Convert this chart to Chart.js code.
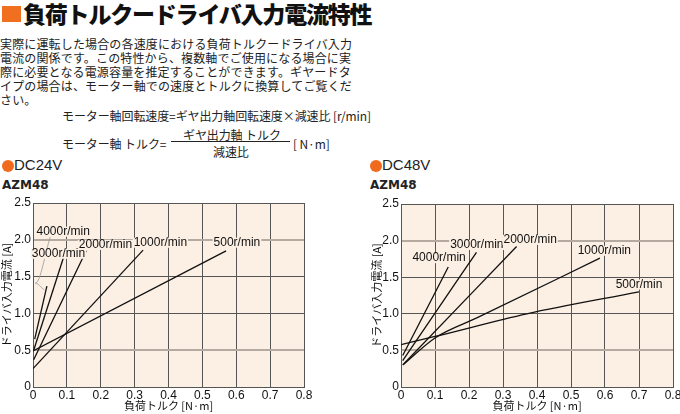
<!DOCTYPE html>
<html>
<head>
<meta charset="utf-8">
<script src="https://cdn.jsdelivr.net/npm/chart.js@4.4.1/dist/chart.umd.min.js"></script>
<style>
body{margin:0;width:680px;height:414px;background:#fff;position:relative;overflow:hidden;font-family:"Noto Sans CJK JP",sans-serif;color:#222}
.t{position:absolute;white-space:nowrap}
#sq{position:absolute;left:2px;top:6px;width:19px;height:16px;background:#f07020}
#ttl{left:23px;top:0;font-size:23px;font-weight:900;line-height:26px;letter-spacing:-1.2px;color:#111}
#body{left:0;top:37px;font-size:12px;line-height:14.1px;letter-spacing:0.15px}
.f{font-size:12px;line-height:14px;letter-spacing:-0.1px}
.dot{position:absolute;width:12px;height:12px;border-radius:50%;background:#f06a1e}
.dc{font-family:"Liberation Sans",Arial,sans-serif;font-size:15px;line-height:16px}
.azm{font-family:"DejaVu Sans",sans-serif;font-weight:bold;font-size:12px;line-height:14px}
canvas{position:absolute}
</style>
</head>
<body>
<div id="sq"></div>
<div class="t" id="ttl">負荷トルクードライバ入力電流特性</div>
<div class="t" id="body">実際に運転した場合の各速度における負荷トルクードライバ入力<br>電流の関係です。この特性から、複数軸でご使用になる場合に実<br>際に必要となる電源容量を推定することができます。ギヤードタ<br>イプの場合は、モーター軸での速度とトルクに換算してご覧くだ<br>さい。</div>
<div class="t f" style="left:62px;top:109px">モーター軸回転速度=ギヤ出力軸回転速度×減速比 [r/min]</div>
<div class="t f" style="left:62px;top:137px">モーター軸 トルク=</div>
<div class="t f" style="left:183px;top:128px">ギヤ出力軸 トルク</div>
<div style="position:absolute;left:171px;top:141px;width:119px;height:1px;background:#222"></div>
<div class="t f" style="left:213px;top:145px">減速比</div>
<div class="t f" style="left:293px;top:137px">[ N·m]</div>

<div class="dot" style="left:1.5px;top:159.5px"></div>
<div class="t dc" style="left:14px;top:157px">DC24V</div>
<div class="t azm" style="left:2px;top:178px">AZM48</div>
<div class="dot" style="left:369.5px;top:159.5px"></div>
<div class="t dc" style="left:382px;top:157px">DC48V</div>
<div class="t azm" style="left:370px;top:178px">AZM48</div>

<canvas id="c24" style="left:0;top:190px;width:340px;height:224px" width="340" height="224"></canvas>
<canvas id="c48" style="left:368px;top:191px;width:312px;height:223px" width="312" height="223"></canvas>

<script>
// tick labels
const xTicks = ['0', '0.1', '0.2', '0.3', '0.4', '0.5', '0.6', '0.7', '0.8'];
const yTicks = ['0', '0.5', '1.0', '1.5', '2.0', '2.5'];
const speeds = ['4000r/min', '3000r/min', '2000r/min', '1000r/min', '500r/min'];

// DC24V  [torque N·m, current A]
const dc24_4000 = [[0.005, 0.65], [0.041, 1.37]];
const dc24_3000 = [[0.002, 0.50], [0.090, 1.76]];
const dc24_2000 = [[0.002, 0.37], [0.157, 1.85]];
const dc24_1000 = [[0, 0.25], [0.325, 1.86]];
const dc24_500 = [[0, 0.49], [0.570, 1.85]];
const dc24_leader = [[0.051, 2.04], [0.007, 1.41], [0.033, 1.32]];
const dc24_labelAt = [[0.089, 2.11], [0.075, 1.81], [0.214, 1.93], [0.376, 1.96], [0.602, 1.96]];

// DC48V
const dc48_4000 = [[0.005, 0.43], [0.139, 1.64]];
const dc48_3000 = [[0.005, 0.36], [0.222, 1.84]];
const dc48_2000 = [[0.005, 0.30], [0.340, 1.92]];
const dc48_1000 = [[0.008, 0.31], [0.1, 0.67], [0.226, 0.95], [0.585, 1.76]];
const dc48_500 = [[0, 0.58], [0.1, 0.69], [0.37, 1.0], [0.70, 1.30]];
const dc48_labelAt = [[0.112, 1.76], [0.223, 1.94], [0.380, 2.01], [0.598, 1.86], [0.70, 1.40]];

const BG = '#fcefe3';
const DARK = '#555';
const LIGHT = '#b4aaa0';
const NARROW = '"Liberation Sans Narrow", "Arial Narrow", "Liberation Sans", sans-serif';
const toXY = arr => arr.map(p => ({x: p[0], y: p[1]}));

const bgPlugin = {
    id: 'bg',
    beforeDraw(chart) {
        const a = chart.chartArea;
        chart.ctx.save();
        chart.ctx.fillStyle = BG;
        chart.ctx.fillRect(a.left, a.top, a.right - a.left, a.bottom - a.top);
        chart.ctx.restore();
    }
};

const labelPlugin = {
    id: 'speedLabels',
    afterDatasetsDraw(chart, args, opts) {
        const ctx = chart.ctx;
        const xs = chart.scales.x, ys = chart.scales.y;
        ctx.save();
        ctx.font = '12px ' + NARROW;
        ctx.textAlign = 'center';
        ctx.textBaseline = 'middle';
        opts.at.forEach((p, i) => {
            const px = xs.getPixelForValue(p[0]);
            const py = ys.getPixelForValue(p[1]);
            const w = ctx.measureText(speeds[i]).width;
            ctx.fillStyle = BG;
            ctx.fillRect(px - w / 2 - 1, py - 5, w + 2, 10);
            ctx.fillStyle = '#111';
            ctx.fillText(speeds[i], px, py);
        });
        ctx.restore();
    }
};

function lineSet(data, color, width) {
    return {
        data: toXY(data),
        showLine: true,
        borderColor: color,
        borderWidth: width,
        pointRadius: 0,
        cubicInterpolationMode: 'monotone',
        fill: false
    };
}

function makeChart(id, series, labelAt, padRight, yTitlePad) {
    new Chart(document.getElementById(id), {
        type: 'scatter',
        data: {datasets: series},
        options: {
            responsive: false,
            animation: false,
            events: [],
            layout: {padding: {left: 0, top: 13, right: padRight, bottom: 0}},
            plugins: {
                legend: {display: false},
                tooltip: {enabled: false},
                speedLabels: {at: labelAt}
            },
            scales: {
                x: {
                    type: 'linear', min: 0, max: 0.8,
                    ticks: {
                        stepSize: 0.1, padding: 1, color: '#111', maxRotation: 0,
                        font: {family: NARROW, size: 12},
                        callback: (v, i) => xTicks[i]
                    },
                    grid: {color: DARK, lineWidth: 1, drawTicks: false},
                    border: {color: DARK, width: 1},
                    title: {
                        display: true, text: '負荷トルク [N·m]', color: '#111',
                        font: {family: '"Noto Sans CJK JP", sans-serif', size: 11},
                        padding: {top: 0, bottom: 2}
                    },
                    afterFit: s => { s.height = 27; s.paddingLeft = 0; s.paddingRight = 0; }
                },
                y: {
                    type: 'linear', min: 0, max: 2.5,
                    ticks: {
                        stepSize: 0.5, padding: 2, color: '#111',
                        font: {family: NARROW, size: 12},
                        callback: (v, i) => yTicks[i]
                    },
                    grid: {
                        drawTicks: false,
                        color: c => (c.index === 1 || c.index === 4) ? LIGHT : DARK,
                        lineWidth: c => (c.index === 1 || c.index === 4) ? 2 : 1
                    },
                    border: {color: DARK, width: 1},
                    title: {
                        display: true, text: 'ドライバ入力電流 [A]', color: '#111',
                        font: {family: '"Noto Sans CJK JP", sans-serif', size: 11},
                        padding: {top: yTitlePad, bottom: 0}
                    },
                    afterFit: s => { s.width = 33; s.paddingTop = 0; s.paddingBottom = 0; }
                }
            }
        },
        plugins: [bgPlugin, labelPlugin]
    });
}

makeChart('c24', [
    lineSet(dc24_4000, '#111', 1.3),
    lineSet(dc24_3000, '#111', 1.3),
    lineSet(dc24_2000, '#111', 1.3),
    lineSet(dc24_1000, '#111', 1.3),
    lineSet(dc24_500, '#111', 1.3),
    lineSet(dc24_leader, '#999', 0.8)
], dc24_labelAt, 36, 0);

makeChart('c48', [
    lineSet(dc48_4000, '#111', 1.3),
    lineSet(dc48_3000, '#111', 1.3),
    lineSet(dc48_2000, '#111', 1.3),
    lineSet(dc48_1000, '#111', 1.3),
    lineSet(dc48_500, '#111', 1.3)
], dc48_labelAt, 7, 2);
</script>
</body>
</html>
